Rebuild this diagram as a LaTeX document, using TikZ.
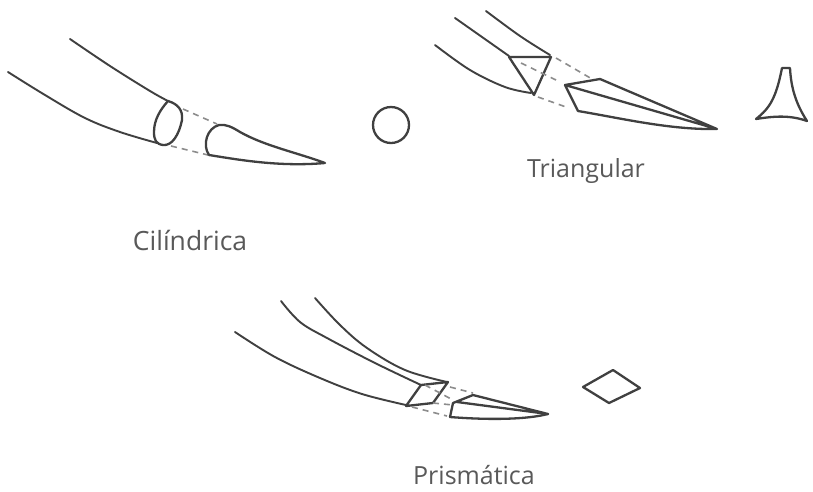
\documentclass[tikz,border=0pt]{standalone}
\usepackage{fontspec}
\setmainfont{Open Sans}
\tikzset{
  ink/.style={draw=black!75,line width=2.3pt,line cap=round,line join=round},
  thin ink/.style={ink,line width=1.9pt},
  hidden edge/.style={draw=black!45,line width=1.6pt,dash pattern=on 6pt off 5pt},
  caption/.style={text=black!65,font=\fontsize{25}{30}\selectfont,inner sep=0pt}
}
\begin{document}
\begin{tikzpicture}[x=1pt,y=-1pt]
\useasboundingbox (0,0) rectangle (813,491);
\fill[white] (0,0) rectangle (813,491);
% Cylindrical
\draw[thin ink] plot[smooth,tension=0.6] coordinates {(70,39) (110,66) (150,91) (168,101)};
\draw[thin ink] plot[smooth,tension=0.6] coordinates {(8,72) (45,95) (85,118) (120,132) (157,143)};
\draw[ink] (168,101) .. controls (160,110) and (154,120) .. (154,132) .. controls (154,140) and (156,144) .. (163,145) .. controls (172,146) and (179,135) .. (182,120) .. controls (183,110) and (178,104) .. (168,101);
\draw[hidden edge] (183,109) -- (217,124);
\draw[hidden edge] (171,146) -- (208,155);
\draw[ink] (325,163) .. controls (295,152) and (265,146) .. (240,132) .. controls (232,127) and (226,124) .. (219,125) .. controls (207,128) and (202,145) .. (209,155) .. controls (240,160) and (280,167) .. (325,163);
\draw[ink] (391,125) circle[radius=18];
\node[caption,font=\fontsize{26.5}{30}\selectfont] (cil) at (190,240) {Cilíndrica};
% Triangular
\draw[thin ink] plot[smooth,tension=0.6] coordinates {(486,11) (520,36) (550,55)};
\draw[thin ink] plot[smooth,tension=0.6] coordinates {(455,18) (482,37) (509,56)};
\draw[thin ink] plot[smooth,tension=0.6] coordinates {(435,45) (470,70) (505,87) (531,93)};
\draw[ink] (509,57) -- (551,57) -- (534,95) -- cycle;
\draw[hidden edge] (556,58) -- (592,79);
\draw[hidden edge] (521,63) -- (556,80);
\draw[hidden edge] (538,97) -- (566,107);
\draw[ink] (565,85) -- (600,79) -- (717,129) -- (565,85) -- (578,111) .. controls (620,118) and (670,130) .. (717,129);
\node[caption] (tri) at (586,171) {Triangular};
\draw[ink] (782,68) -- (790,68) .. controls (791,88) and (796,104) .. (807,121) .. controls (790,115) and (775,116) .. (756,119) .. controls (770,108) and (776,98) .. (782,68);
% Prismatic
\draw[thin ink] plot[smooth,tension=0.6] coordinates {(315,298) (340,325) (367,348) (405,370) (447,382)};
\draw[thin ink] plot[smooth,tension=0.6] coordinates {(281,301) (300,322) (327,338) (375,363) (421,385)};
\draw[thin ink] plot[smooth,tension=0.6] coordinates {(235,332) (275,357) (320,378) (362,394) (406,405)};
\draw[ink] (421,385) -- (448,382) -- (433,403) -- (406,406) -- cycle;
\draw[hidden edge] (450,387) -- (473,393);
\draw[hidden edge] (425,385) -- (453,400);
\draw[hidden edge] (433,403) -- (453,405);
\draw[hidden edge] (412,407) -- (447,416);
\draw[ink] (450,417) -- (453,403) -- (473,395) -- (548,414) -- (457,402);
\draw[ink] (450,417) .. controls (475,419) and (520,421) .. (548,414);
\node[caption] (pri) at (474,475) {Prismática};
\draw[ink] (583,387) -- (613,370) -- (640,388) -- (609,403) -- cycle;
\end{tikzpicture}
\end{document}
